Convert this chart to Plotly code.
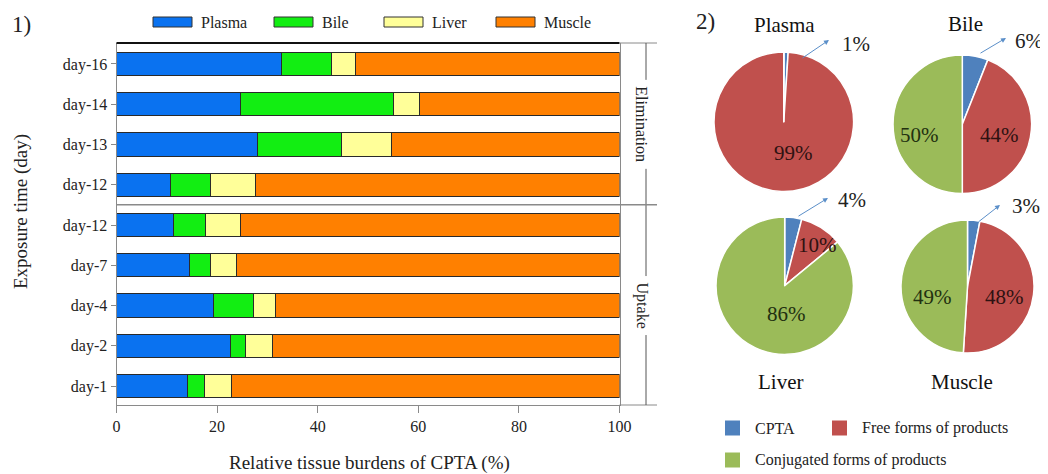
import plotly.graph_objects as go

# ---------------- data ----------------
categories = ["day-16", "day-14", "day-13", "day-12", "day-12", "day-7", "day-4", "day-2", "day-1"]
phases = ["Elimination"] * 4 + ["Uptake"] * 5
series_names = ["Plasma", "Bile", "Liver", "Muscle"]
plasma = [32.9, 24.7, 28.0, 10.8, 11.4, 14.6, 19.2, 22.7, 14.1]
bile = [9.8, 30.3, 16.8, 7.8, 6.3, 4.1, 8.0, 3.0, 3.3]
liver = [4.8, 5.2, 9.8, 9.1, 6.9, 5.2, 4.5, 5.4, 5.4]
muscle = [52.5, 39.8, 45.4, 72.3, 75.4, 76.1, 68.3, 68.9, 77.2]
x_ticks = [0, 20, 40, 60, 80, 100]

pie_tissues = ["Plasma", "Bile", "Liver", "Muscle"]
forms = ["CPTA", "Free forms of products", "Conjugated forms of products"]
cpta_pct = [1, 6, 4, 3]
free_pct = [99, 44, 10, 48]
conj_pct = [0, 50, 86, 49]

# ---------------- styles ----------------
OFF = 8  # page body margin of the html page
W, H = 1048 - OFF, 474 - OFF
SERIF = "Liberation Serif, Times New Roman, serif"
bar_colors = ["#0A72F0", "#12EE12", "#FFFF99", "#FF8000"]
pie_colors = ["#4F81BD", "#C0504D", "#9BBB59"]
GREY = "#8a8a8a"


def fx(p):
    return (p - OFF) / W


def fy(p):
    return 1 - (p - OFF) / H


def label(x, y, text, size, color="#222", **kw):
    d = dict(xref="paper", yref="paper", x=fx(x), y=fy(y), text=text, showarrow=False,
             xanchor="center", yanchor="middle", font=dict(family=SERIF, size=size, color=color))
    d.update(kw)
    return d


fig = go.Figure()

ypos = list(range(len(categories)))
for name, vals, col in zip(series_names, [plasma, bile, liver, muscle], bar_colors):
    fig.add_trace(go.Bar(
        x=vals, y=ypos, orientation="h", name=name, width=0.58,
        marker=dict(color=col, line=dict(color="#2a2a2a", width=1)),
        showlegend=False, xaxis="x", yaxis="y",
    ))

# pies
pie_domains = [
    (714.0, 853.6, 52.0, 191.6),
    (893.0, 1031.6, 55.0, 193.6),
    (716.0, 853.4, 217.0, 354.4),
    (901.0, 1034.0, 220.0, 353.0),
]
for i, t in enumerate(pie_tissues):
    x0, x1, y0, y1 = pie_domains[i]
    fig.add_trace(go.Pie(
        labels=forms, values=[cpta_pct[i], free_pct[i], conj_pct[i]],
        sort=False, direction="clockwise", rotation=0,
        marker=dict(colors=pie_colors, line=dict(color="white", width=1.5)),
        textinfo="none", hoverinfo="label+percent", showlegend=False, name=t,
        domain=dict(x=[fx(x0), fx(x1)], y=[fy(y1), fy(y0)]),
    ))

x_dom = [fx(116.5), fx(619.5)]
y_dom = [fy(405), fy(43)]
n = len(categories)
fig.update_layout(
    width=W, height=H, margin=dict(l=0, r=0, t=0, b=0),
    paper_bgcolor="white", plot_bgcolor="white",
    barmode="stack", bargap=0.42,
    xaxis=dict(domain=x_dom, range=[0, 100], tickvals=x_ticks, showgrid=False, zeroline=False,
               showline=True, linecolor=GREY, linewidth=1, ticks="outside", ticklen=7,
               tickcolor=GREY, tickfont=dict(family=SERIF, size=16, color="#222"),
               automargin=False, fixedrange=True),
    yaxis=dict(domain=y_dom, range=[n - 1 + 0.47, -0.52], tickvals=ypos, ticktext=categories,
               showgrid=False, zeroline=False, showline=True, mirror=True, linecolor=GREY,
               linewidth=1, ticks="outside", ticklen=5, tickcolor=GREY,
               tickfont=dict(family=SERIF, size=16, color="#222"), automargin=False,
               fixedrange=True),
    showlegend=False,
)

shapes = []
# top black border
shapes.append(dict(type="line", xref="paper", yref="y domain", x0=x_dom[0], x1=x_dom[1], y0=1, y1=1,
                   line=dict(color="#111", width=2)))
# right panel lines
shapes.append(dict(type="line", xref="paper", yref="y domain", x0=x_dom[1], x1=fx(657), y0=1, y1=1,
                   line=dict(color=GREY, width=1)))
shapes.append(dict(type="line", xref="paper", yref="y domain", x0=x_dom[1], x1=fx(657), y0=0, y1=0,
                   line=dict(color=GREY, width=1)))
shapes.append(dict(type="line", xref="paper", yref="y domain", x0=fx(646), x1=fx(646), y0=0, y1=1,
                   line=dict(color="#555", width=1)))
# divider between phases
split = phases.index("Uptake") - 0.5
shapes.append(dict(type="line", xref="paper", yref="y", x0=x_dom[0], x1=fx(657), y0=split, y1=split,
                   line=dict(color=GREY, width=1.5)))

annotations = []
# phase labels
for ph in ["Elimination", "Uptake"]:
    idx = [i for i, p in enumerate(phases) if p == ph]
    mid = (idx[0] + idx[-1]) / 2
    annotations.append(dict(xref="paper", yref="y", x=fx(642), y=mid, text=ph, textangle=90,
                            xanchor="center", yanchor="middle",
                            showarrow=False, bgcolor="white", borderpad=6,
                            font=dict(family=SERIF, size=16, color="#222")))

# bar legend
leg_x = [153, 274, 384, 496]
for name, col, lx in zip(series_names, bar_colors, leg_x):
    shapes.append(dict(type="rect", xref="paper", yref="paper", x0=fx(lx), x1=fx(lx + 39),
                       y0=fy(27), y1=fy(17), fillcolor=col, line=dict(color="#333", width=1)))
    annotations.append(label(lx + 46, 22, name, 16, xanchor="left"))

# axis titles and panel numbers
annotations.append(label(369, 463, "Relative tissue burdens of CPTA (%)", 19))
annotations.append(label(21, 212, "Exposure time (day)", 19, textangle=-90))
annotations.append(label(21, 24, "1)", 23))
annotations.append(label(705, 21, "2)", 23))

# pie titles
title_pos = [(784, 25), (965, 24), (780, 382), (962, 382)]
for t, (tx, ty) in zip(pie_tissues, title_pos):
    annotations.append(label(tx, ty, t, 21, "#111"))

# pie percentage labels inside slices
free_pos = [(793, 153), (999, 135), (817, 245), (1004, 297)]
conj_pos = [None, (919, 135), (786, 314), (932, 297)]
for i in range(len(pie_tissues)):
    if free_pct[i] > 0 and free_pos[i]:
        annotations.append(label(free_pos[i][0], free_pos[i][1], f"{free_pct[i]}%", 21, "#2e1212"))
    if conj_pct[i] > 0 and conj_pos[i]:
        annotations.append(label(conj_pos[i][0], conj_pos[i][1], f"{conj_pct[i]}%", 21, "#223010"))

# small CPTA slices: arrows + outside labels
arrow_heads = [(829, 40), (1006, 38), (828, 198), (1000, 205)]
arrow_tails = [(801, 59), (979, 54), (797, 217), (977, 223)]
cpta_label_pos = [(856, 44), (1029, 41), (852, 200), (1026, 206)]
for i in range(len(pie_tissues)):
    hx, hy = arrow_heads[i]
    tx, ty = arrow_tails[i]
    annotations.append(dict(xref="paper", yref="paper", x=fx(hx), y=fy(hy), ax=tx - hx, ay=ty - hy,
                            text="", showarrow=True, arrowhead=2, arrowsize=1, arrowwidth=1,
                            arrowcolor="#5B8FC9", standoff=0, startstandoff=0))
    lx, ly = cpta_label_pos[i]
    annotations.append(label(lx, ly, f"{cpta_pct[i]}%", 21))

# pie legend
pie_leg = [(725, 428), (832, 428), (725, 460)]
for lab, col, (lx, ly) in zip(forms, pie_colors, pie_leg):
    shapes.append(dict(type="rect", xref="paper", yref="paper", x0=fx(lx), x1=fx(lx + 15),
                       y0=fy(ly + 7.5), y1=fy(ly - 7.5), fillcolor=col, line=dict(width=0)))
    annotations.append(label(lx + 28, ly, lab, 16, xanchor="left"))

fig.update_layout(shapes=shapes, annotations=annotations)
fig.write_html("out.html")
